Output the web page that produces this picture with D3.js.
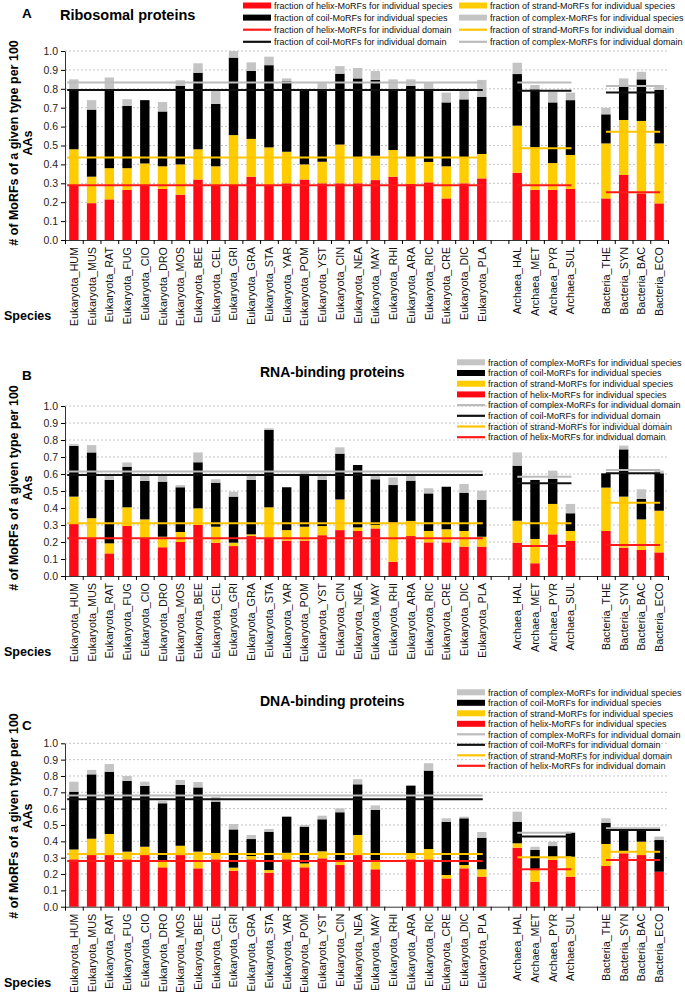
<!DOCTYPE html>
<html>
<head>
<meta charset="utf-8">
<script src="https://cdn.jsdelivr.net/npm/d3@7"></script>
<style>
  body { margin: 0; background: #fff; }
  svg { font-family: Arial, "Liberation Sans", sans-serif; }
</style>
</head>
<body>
<svg id="chart" width="685" height="1006"></svg>
<script>
// species codes per domain
const eukCodes = ["HUM","MUS","RAT","FUG","CIO","DRO","MOS","BEE","CEL","GRI","GRA","STA","YAR","POM","YST","CIN","NEA","MAY","RHI","ARA","RIC","CRE","DIC","PLA"]
const arcCodes = ["HAL","MET","PYR","SUL"]
const bacCodes = ["THE","SYN","BAC","ECO"]
const yTicks = [0, 0.1, 0.2, 0.3, 0.4, 0.5, 0.6, 0.7, 0.8, 0.9, 1.0]

// A - ribosomal proteins, fraction per species (euk | arc | bac)
const ribHelix   = [.29,.195,.215,.265,.29,.27,.24,.32,.29,.29,.335,.29,.30,.32,.30,.30,.30,.317,.335,.296,.305,.22,.30,.326, .356,.265,.265,.27, .22,.344,.247,.194]
const ribStrand  = [.19,.14,.165,.115,.115,.12,.16,.16,.10,.265,.20,.20,.167,.08,.114,.205,.135,.129,.141,.141,.108,.17,.137,.129, .249,.225,.142,.18, .291,.291,.383,.317]
const ribCoil    = [.32,.355,.42,.33,.335,.29,.415,.405,.33,.41,.36,.435,.373,.39,.386,.375,.42,.401,.324,.378,.387,.338,.307,.303, .273,.307,.321,.29, .154,.185,.22,.283]
const ribComplex = [.05,.05,.06,.035,0,.05,.03,.05,.07,.035,.045,.045,.015,0,.03,.04,.055,.047,.05,.035,.033,.052,.05,.089, .06,.023,.057,.04, .035,.035,.04,.026]
// domain averages (cumulative level): [Eukaryota, Archaea, Bacteria]
const ribDomHelix   = [.29, .29, .252]
const ribDomStrand  = [.436, .485, .573]
const ribDomCoil    = [.794, .79, .78]
const ribDomComplex = [.833, .833, .815]

// B - RNA-binding proteins
const rnaHelix   = [.31,.222,.133,.294,.222,.169,.20,.30,.196,.176,.235,.22,.208,.208,.24,.27,.265,.28,.084,.235,.198,.198,.173,.173, .196,.075,.245,.206, .265,.167,.153,.139]
const rnaStrand  = [.157,.118,.059,.11,.111,.062,.059,.098,.094,.02,.01,.184,.062,.082,.054,.18,.021,.02,.23,.089,.067,.077,.092,.058, .129,.143,.179,.059, .255,.30,.18,.245]
const rnaCoil    = [.298,.387,.373,.239,.226,.324,.263,.271,.259,.271,.32,.455,.252,.304,.271,.27,.367,.269,.221,.237,.221,.25,.225,.216, .324,.347,.147,.104, .084,.278,.12,.22]
const rnaComplex = [.011,.043,.023,.025,.029,.033,.013,.058,.02,.029,.035,.01,0,.02,.029,.037,0,.019,.045,.027,.03,0,.051,.055, .078,0,.049,.055, 0,.022,.057,.016]
const rnaDomHelix   = [.222, .176, .182]
const rnaDomStrand  = [.31, .31, .431]
const rnaDomCoil    = [.594, .545, .604]
const rnaDomComplex = [.614, .584, .624]

// C - DNA-binding proteins
const dnaHelix   = [.29,.316,.316,.29,.316,.241,.316,.235,.29,.22,.29,.208,.29,.241,.296,.255,.316,.229,0,.29,.29,.173,.235,.184, .361,.153,.286,.184, .249,.327,.316,.214]
const dnaStrand  = [.06,.10,.129,.047,.051,.035,.057,.102,.037,.019,.02,.016,.04,.024,.043,.021,.123,.051,0,.037,.063,.021,.02,.045, .027,.071,.014,.122, .135,.014,.082,0]
const dnaCoil    = [.354,.394,.381,.433,.372,.357,.372,.393,.316,.234,.104,.235,.221,.225,.196,.302,.31,.312,0,.414,.48,.326,.286,.193, .132,.123,.071,.147, .13,.128,.071,.194]
const dnaComplex = [.061,.027,.047,.03,.026,.014,.031,.033,.03,.033,.025,.017,0,.01,.022,.024,.031,.028,0,0,.045,.021,.01,.035, .062,.02,.027,.006, .027,0,0,.021]
const dnaDomHelix   = [.28, .229, .286]
const dnaDomStrand  = [.322, .302, .337]
const dnaDomCoil    = [.657, .429, .469]
const dnaDomComplex = [.68, .453, .48]

const colors = {helix: "#ff0a14", strand: "#ffcc00", coil: "#000000", complex: "#c4c4c4"}
const lineColors = {helix: "#ff1a1a", strand: "#ffc400", coil: "#111111", complex: "#bcbcbc"}

const domains = [
    {name: "Eukaryota", keys: eukCodes.map(c => "Eukaryota_" + c)},
    {name: "Archaea", keys: arcCodes.map(c => "Archaea_" + c)},
    {name: "Bacteria", keys: bacCodes.map(c => "Bacteria_" + c)}
]
const speciesKeys = domains.flatMap(d => d.keys)
const slots = [...domains[0].keys, "gap1", ...domains[1].keys, "gap2", ...domains[2].keys]

const svg = d3.select("#chart")

const x = d3.scaleBand()
    .domain(slots)
    .range([65, 668])
    .paddingInner(0.47)
    .paddingOuter(0.235)
// slot edges for the little ticks under the axis
const edge = d3.scaleLinear().domain([0, slots.length]).range(x.range())

function drawPanel(p) {
    const y = d3.scaleLinear().domain([0, 1]).range([p.y0, p.y1])
    const g = svg.append("g")

    // dotted grid
    g.append("g").selectAll("line")
        .data(yTicks.slice(1))
        .join("line")
        .attr("x1", x.range()[0]).attr("x2", x.range()[1])
        .attr("y1", d => y(d)).attr("y2", d => y(d))
        .attr("stroke", "#b5b5b5")
        .attr("stroke-width", 0.8)
        .attr("stroke-dasharray", "2,2")

    const rows = speciesKeys.map((k, i) => ({
        key: k, helix: p.helix[i], strand: p.strand[i], coil: p.coil[i], complex: p.complex[i]
    }))
    const series = d3.stack().keys(["helix", "strand", "coil", "complex"])(rows)

    g.append("g").selectAll("g")
        .data(series)
        .join("g")
        .attr("fill", d => colors[d.key])
        .selectAll("rect")
        .data(d => d)
        .join("rect")
        .attr("x", d => x(d.data.key))
        .attr("width", x.bandwidth())
        .attr("y", d => y(d[1]))
        .attr("height", d => Math.max(0, y(d[0]) - y(d[1])))

    // domain average lines
    const lines = []
    domains.forEach((dm, i) => {
        const first = dm.keys[0], last = dm.keys[dm.keys.length - 1]
        const x1 = i === 0 ? x(first) - 2 : x(first) + x.bandwidth() / 2
        const x2 = x(last) + x.bandwidth() / 2 + 1
        ;["complex", "coil", "strand", "helix"].forEach(t => {
            lines.push({type: t, x1: x1, x2: x2, v: p.dom[t][i]})
        })
    })
    g.append("g").selectAll("line")
        .data(lines)
        .join("line")
        .attr("x1", d => d.x1).attr("x2", d => d.x2)
        .attr("y1", d => y(d.v)).attr("y2", d => y(d.v))
        .attr("stroke", d => lineColors[d.type])
        .attr("stroke-width", 2)

    // y axis
    const yAxis = g.append("g")
        .attr("transform", `translate(${x.range()[0]},0)`)
        .call(d3.axisLeft(y).tickValues(yTicks).tickFormat(d3.format(".1f")).tickSize(4).tickSizeOuter(0).tickPadding(3))
    yAxis.selectAll("text").attr("font-size", 10.5).attr("fill", "#222").attr("font-family", "Arial, 'Liberation Sans', sans-serif")
    yAxis.select(".domain").attr("stroke", "#333")

    // x axis: edge ticks
    g.append("g")
        .attr("transform", `translate(0,${p.y0})`)
        .call(d3.axisBottom(edge).tickValues(d3.range(slots.length + 1)).tickFormat("").tickSize(4).tickSizeOuter(0))
        .select(".domain").attr("stroke", "#333")

    // x axis: species names
    const labels = g.append("g")
        .attr("transform", `translate(0,${p.y0})`)
        .call(d3.axisBottom(x).tickSize(0).tickFormat(d => d.startsWith("gap") ? "" : d))
    labels.select(".domain").remove()
    labels.selectAll("text")
        .attr("font-size", 10.8)
        .attr("font-family", "'Liberation Sans Narrow', 'Arial Narrow', Arial, sans-serif")
        .attr("fill", "#111")
        .attr("text-anchor", "end")
        .attr("dy", null)
        .attr("y", null)
        .attr("transform", "translate(4,7) rotate(-90)")

    svg.append("text").attr("x", 4).attr("y", p.y0 + 80)
        .attr("font-size", 12.5).attr("font-weight", "bold").text("Species")

    // y title
    const yt = svg.append("g").attr("font-weight", "bold").attr("font-size", 12.5).attr("text-anchor", "middle")
    yt.append("text").attr("transform", `translate(18,${p.titleMid}) rotate(-90)`).text("# of MoRFs of a given type per 100")
    yt.append("text").attr("transform", `translate(32,${p.titleMid}) rotate(-90)`).text("AAs")

    // panel letter + title
    svg.append("text").attr("x", 22).attr("y", p.letterY)
        .attr("font-size", 13.5).attr("font-weight", "bold").text(p.letter)
    svg.append("text").attr("x", p.titleX).attr("y", p.titleY)
        .attr("font-size", p.titleSize).attr("font-weight", "bold").text(p.title)

    // legend
    const lg = svg.append("g").attr("font-size", 9).attr("fill", "#111")
    p.legend.forEach(it => {
        const row = lg.append("g").attr("transform", `translate(${it.x},${it.y})`)
        if (it.kind === "bar") {
            row.append("rect").attr("x", 0).attr("y", -3).attr("width", 28).attr("height", 6).attr("fill", colors[it.type])
        } else {
            row.append("line").attr("x1", 0).attr("x2", 28).attr("y1", 0).attr("y2", 0)
                .attr("stroke", lineColors[it.type]).attr("stroke-width", 2.2)
        }
        row.append("text").attr("x", 31).attr("y", 3.2).text(it.label)
    })
}

const names = {helix: "helix", strand: "strand", coil: "coil", complex: "complex"}
function lab(type, kind) {
    return "fraction of " + names[type] + "-MoRFs for individual " + (kind === "bar" ? "species" : "domain")
}

// legend of panel A: two columns
const legendA = []
;[["helix","bar"],["coil","bar"],["helix","line"],["coil","line"]].forEach((d, i) =>
    legendA.push({type: d[0], kind: d[1], x: 243, y: 5.5 + i * 12.1, label: lab(d[0], d[1])}))
;[["strand","bar"],["complex","bar"],["strand","line"],["complex","line"]].forEach((d, i) =>
    legendA.push({type: d[0], kind: d[1], x: 459, y: 5.5 + i * 12.1, label: lab(d[0], d[1])}))

const legendOrder = [["complex","bar"],["coil","bar"],["strand","bar"],["helix","bar"],["complex","line"],["coil","line"],["strand","line"],["helix","line"]]
function stackedLegend(y0, dy) {
    return legendOrder.map((d, i) => ({type: d[0], kind: d[1], x: 457, y: y0 + i * dy, label: lab(d[0], d[1])}))
}

drawPanel({
    y0: 240, y1: 51, titleMid: 143, letter: "A", letterY: 18,
    title: "Ribosomal proteins", titleX: 60, titleY: 20, titleSize: 14.5,
    helix: ribHelix, strand: ribStrand, coil: ribCoil, complex: ribComplex,
    dom: {helix: ribDomHelix, strand: ribDomStrand, coil: ribDomCoil, complex: ribDomComplex},
    legend: legendA
})

drawPanel({
    y0: 576, y1: 406, titleMid: 488, letter: "B", letterY: 380,
    title: "RNA-binding proteins", titleX: 260, titleY: 377, titleSize: 14,
    helix: rnaHelix, strand: rnaStrand, coil: rnaCoil, complex: rnaComplex,
    dom: {helix: rnaDomHelix, strand: rnaDomStrand, coil: rnaDomCoil, complex: rnaDomComplex},
    legend: stackedLegend(362.3, 10.7)
})

drawPanel({
    y0: 906.7, y1: 743.3, titleMid: 816, letter: "C", letterY: 730,
    title: "DNA-binding proteins", titleX: 260, titleY: 706, titleSize: 14,
    helix: dnaHelix, strand: dnaStrand, coil: dnaCoil, complex: dnaComplex,
    dom: {helix: dnaDomHelix, strand: dnaDomStrand, coil: dnaDomCoil, complex: dnaDomComplex},
    legend: stackedLegend(692.3, 10.5)
})
</script>
</body>
</html>
